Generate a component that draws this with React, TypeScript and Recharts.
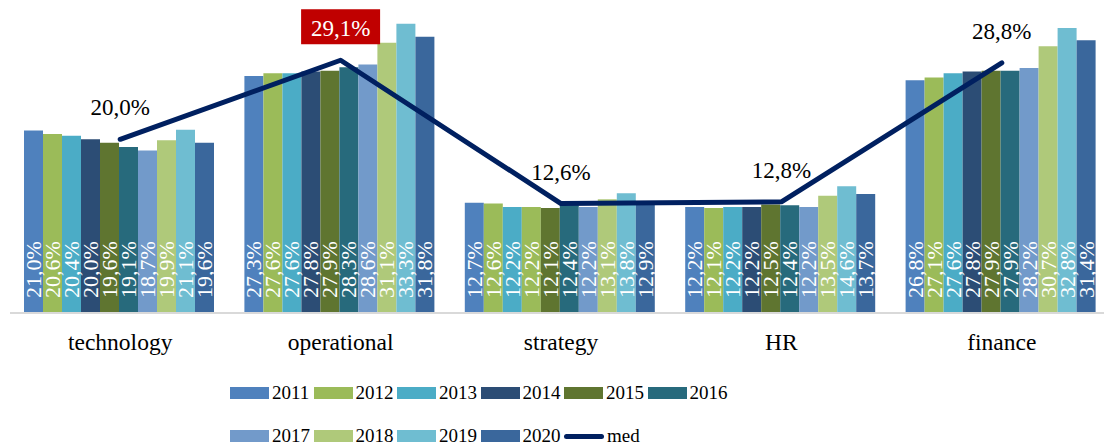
import React from "react";
import {
  ComposedChart,
  Bar,
  Line,
  XAxis,
  YAxis,
  Cell,
  LabelList,
} from "recharts";

const categories = ["technology", "operational", "strategy", "HR", "finance"];
const years = ["2011", "2012", "2013", "2014", "2015", "2016", "2017", "2018", "2019", "2020"];

// one array per year, in category order
const v2011 = [21.0, 27.3, 12.7, 12.2, 26.8];
const v2012 = [20.6, 27.6, 12.6, 12.1, 27.1];
const v2013 = [20.4, 27.6, 12.2, 12.2, 27.6];
const v2014 = [20.0, 27.8, 12.2, 12.2, 27.8];
const v2015 = [19.6, 27.9, 12.1, 12.5, 27.9];
const v2016 = [19.1, 28.3, 12.4, 12.4, 27.9];
const v2017 = [18.7, 28.6, 12.2, 12.2, 28.2];
const v2018 = [19.9, 31.1, 13.1, 13.5, 30.7];
const v2019 = [21.1, 33.3, 13.8, 14.6, 32.8];
const v2020 = [19.6, 31.8, 12.9, 13.7, 31.4];
const yearValues = [v2011, v2012, v2013, v2014, v2015, v2016, v2017, v2018, v2019, v2020];

const med = [20.0, 29.1, 12.6, 12.8, 28.8];
const highlighted = ["operational"];

const yearColors = [
  "#4F81BD", "#9BBB59", "#4BACC6", "#2C4D75", "#5F7530",
  "#276A7C", "#729ACA", "#AFC97A", "#6FBDD1", "#3A679C",
];
const medColor = "#002060";
const FONT = '"Liberation Serif", "Times New Roman", serif';

const data = categories.map((name, i) => {
  const row: Record<string, string | number> = { name, med: med[i] };
  years.forEach((y, k) => {
    row[y] = yearValues[k][i];
  });
  return row;
});

const fmt = (v: number) => `${v.toFixed(1).replace(".", ",")}%`;

const BarLabel = (props: any) => {
  const { x, y, width, height, value } = props;
  const cx = x + width / 2;
  const by = y + height - 15;
  return (
    <text
      x={cx}
      y={by}
      dy="0.34em"
      transform={`rotate(-90, ${cx}, ${by})`}
      textAnchor="start"
      fill="#fff"
      fontSize={22}
      fontFamily={FONT}
    >
      {fmt(Number(value))}
    </text>
  );
};

const MedLabel = (props: any) => {
  const { x, y, value, index } = props;
  const hot = highlighted.includes(categories[index]);
  return (
    <g>
      {hot && <rect x={x - 39.5} y={y - 51} width={79} height={35} fill="#C00000" />}
      <text
        x={x}
        y={y - 24}
        textAnchor="middle"
        fill={hot ? "#fff" : "#000"}
        fontSize={23}
        fontFamily={FONT}
      >
        {fmt(Number(value))}
      </text>
    </g>
  );
};

const CategoryTick = (props: any) => {
  const { x, y, payload } = props;
  return (
    <text x={x} y={y} dy={37} textAnchor="middle" fill="#000" fontSize={23.5} fontFamily={FONT}>
      {payload.value}
    </text>
  );
};

function LegendItem({ label, color, line }: { label: string; color: string; line?: boolean }) {
  return (
    <div style={{ display: "flex", alignItems: "center", width: 83.5 }}>
      {line ? (
        <div style={{ width: 40, height: 5, borderRadius: 3, background: color }} />
      ) : (
        <div style={{ width: 39, height: 12, background: color }} />
      )}
      <span style={{ marginLeft: 3, fontSize: 19, fontFamily: FONT, color: "#000" }}>{label}</span>
    </div>
  );
}

export default function App() {
  return (
    <div
      style={{
        position: "absolute",
        left: 0,
        top: 0,
        width: 1104,
        height: 446,
        overflow: "hidden",
        background: "#fff",
      }}
    >
      <ComposedChart
        width={1120}
        height={446}
        data={data}
        margin={{ top: 9, right: 8, bottom: 93, left: 10 }}
        barCategoryGap={14}
        barGap={0}
      >
        <XAxis
          dataKey="name"
          height={40}
          axisLine={{ stroke: "#D9D9D9", strokeWidth: 2 }}
          tickLine={false}
          tickSize={0}
          tickMargin={0}
          tick={<CategoryTick />}
          interval={0}
        />
        <YAxis hide domain={[0, 35]} />
        {years.map((y, k) => (
          <Bar key={y} dataKey={y} fill={yearColors[k]} isAnimationActive={false}>
            {categories.map((c) => (
              <Cell
                key={c}
                fill={k === 3 && c === "strategy" ? yearColors[1] : yearColors[k]}
              />
            ))}
            <LabelList dataKey={y} content={<BarLabel />} />
          </Bar>
        ))}
        <Line
          type="linear"
          dataKey="med"
          stroke={medColor}
          strokeWidth={5}
          strokeLinecap="round"
          strokeLinejoin="round"
          dot={false}
          activeDot={false}
          isAnimationActive={false}
        >
          <LabelList dataKey="med" content={<MedLabel />} />
        </Line>
      </ComposedChart>
      <div style={{ position: "absolute", left: 230, top: 382, display: "flex" }}>
        {years.slice(0, 6).map((y, k) => (
          <LegendItem key={y} label={y} color={yearColors[k]} />
        ))}
      </div>
      <div style={{ position: "absolute", left: 230, top: 425, display: "flex" }}>
        {years.slice(6).map((y, k) => (
          <LegendItem key={y} label={y} color={yearColors[k + 6]} />
        ))}
        <LegendItem label="med" color={medColor} line />
      </div>
    </div>
  );
}
